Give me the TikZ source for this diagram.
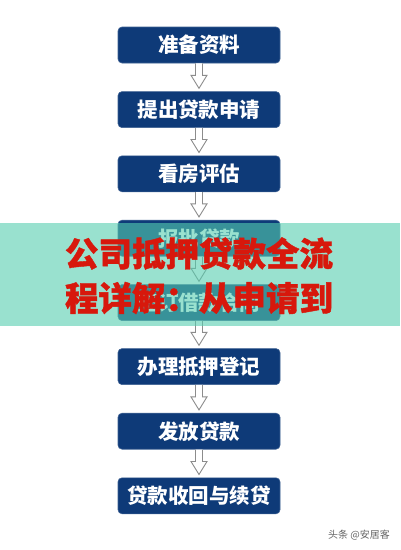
\documentclass[tikz,border=0pt]{standalone}
\usepackage{fontspec}
\newfontfamily\cjk{Noto Sans CJK SC}
\newfontfamily\cjkheavy{Noto Sans CJK SC}[BoldFeatures={FakeBold=1.2}]
\usetikzlibrary{calc}
\definecolor{navy}{RGB}{14,58,120}
\definecolor{mint}{RGB}{85,205,175}
\definecolor{titlered}{RGB}{215,24,12}
\definecolor{arrowgray}{RGB}{140,140,140}
\definecolor{markgray}{RGB}{100,100,100}
\newcommand\flowarrow[2]{%
  \draw[hollowarrow]
    ($(#1.south)+(-3.5,0)$) -- ($(#2.north)+(-3.5,-16)$) -- ($(#2.north)+(-8,-16)$)
    -- ($(#2.north)+(0,-3)$)
    -- ($(#2.north)+(8,-16)$) -- ($(#2.north)+(3.5,-16)$) -- ($(#1.south)+(3.5,0)$);
}
\begin{document}
\begin{tikzpicture}[x=1pt,y=-1pt,
  stepbox/.style={rounded corners=4pt, fill=navy, draw=navy!80!white, line width=0.6pt,
    minimum width=162pt, minimum height=36pt, inner sep=0pt, text=white,
    font=\cjk\bfseries\fontsize{20.5}{20.5}\selectfont},
  hollowarrow/.style={draw=arrowgray, fill=white, line width=0.9pt, line join=miter},
  titletext/.style={text=titlered, inner sep=0pt, font=\cjkheavy\bfseries\fontsize{33.5}{33.5}\selectfont},
  marktext/.style={text=markgray, inner sep=0pt, font=\cjk\fontsize{10}{10}\selectfont}]
\fill[white] (0,0) rectangle (400,550);
\useasboundingbox (0,0) rectangle (400,550);
\node[stepbox] (s1) at (199,45) {准备资料};
\node[stepbox] (s2) at (199,109.6) {提出贷款申请};
\node[stepbox] (s3) at (199,173.8) {看房评估};
\node[stepbox] (s4) at (199,238.2) {报批贷款};
\node[stepbox] (s5) at (199,302.6) {签订借款合同};
\node[stepbox] (s6) at (199,366.6) {办理抵押登记};
\node[stepbox] (s7) at (199,431.2) {发放贷款};
\node[stepbox] (s8) at (199,495.8) {贷款收回与续贷};
\flowarrow{s1}{s2}
\flowarrow{s2}{s3}
\flowarrow{s3}{s4}
\flowarrow{s4}{s5}
\flowarrow{s5}{s6}
\flowarrow{s6}{s7}
\flowarrow{s7}{s8}
\fill[mint, opacity=0.6] (0,223) rectangle (400,326);
\node[titletext] (t1) at (199,253.5) {公司抵押贷款全流};
\node[titletext] (t2) at (199,298) {程详解：从申请到};
\node[marktext, anchor=east] (wm) at (390,535) {头条 @安居客};
\end{tikzpicture}
\end{document}
